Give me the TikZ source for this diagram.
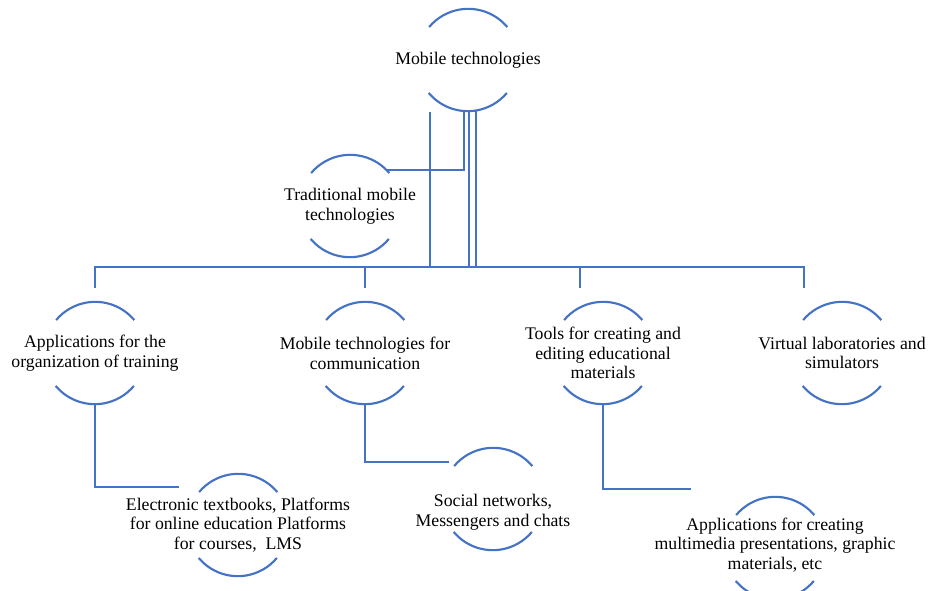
\documentclass[tikz,border=0pt]{standalone}
\usepackage{fontspec}
\setmainfont{Liberation Serif}
\newfontfamily\capfont{Liberation Serif}
\usetikzlibrary{positioning}
\definecolor{lineblue}{RGB}{68,114,196}
\tikzset{
  ring/.style={circle,minimum size=76.5pt,inner sep=0pt},
  caption/.style={align=center,inner sep=0pt,font=\capfont\fontsize{13.3}{14.8}\selectfont},
  rim/.style={draw=lineblue,line width=1.6pt},
  conn/.style={draw=lineblue,line width=1.7pt},
}
\newcommand{\topic}[5][0pt]{\node[ring] (#2) at (#3,#4) {};
  \node[caption] (#2-txt) at ([yshift=#1]#2.center) {#5};
  \draw[rim] (#2.40) arc[start angle=40,end angle=140,radius=38.25pt];
  \draw[rim] (#2.220) arc[start angle=220,end angle=320,radius=38.25pt];}

\begin{document}
\begin{tikzpicture}[x=0.75pt,y=0.75pt]
    \useasboundingbox (0,0) rectangle (929,-590);
    \topic{mob}{468}{-60}{Mobile technologies}
    \topic{trad}{350}{-206}{Traditional mobile\\technologies}
    \topic{org}{95}{-353}{Applications for the\\organization of training}
    \topic{comm}{365}{-353}{Mobile technologies for\\communication}
    \topic{tools}{603}{-353}{Tools for creating and\\editing educational\\materials}
    \topic{virt}{842}{-353}{Virtual laboratories and\\simulators}
    \topic{ebook}{238}{-525}{Electronic textbooks, Platforms\\for online education Platforms\\for courses,~ LMS}
    \topic[-9.75pt]{social}{493}{-499}{Social networks,\\Messengers and chats}
    \topic[2.25pt]{media}{775}{-548}{Applications for creating\\multimedia presentations, graphic\\materials, etc}

    % bus to the second row
    \coordinate (bus) at (0,-267);
    \coordinate (orgTop) at (95,-288);   \coordinate (commTop) at (365,-288);
    \coordinate (toolsTop) at (580,-288); \coordinate (virtTop) at (804,-288);
    \draw[conn] (orgTop) -- (orgTop |- bus) -| (virtTop);
    \draw[conn] (commTop) -- (commTop |- bus);
    \draw[conn] (toolsTop) -- (toolsTop |- bus);

    % from the top topic
    \coordinate (mobA) at (430,-112); \coordinate (mobC) at (469,-111);
    \coordinate (mobD) at (476,-111);
    \draw[conn] (mobA) -- (mobA |- bus);
    \draw[conn] ([xshift=-3pt]mob.south) |- (trad.45);
    \draw[conn] (mobC) -- (mobC |- bus);
    \draw[conn] (mobD) -- (mobD |- bus);

    % third row
    \coordinate (ebookIn) at (179,-487); \coordinate (socialIn) at (449,-462);
    \coordinate (mediaIn) at (691,-489);
    \draw[conn] (org.south) |- (ebookIn);
    \draw[conn] (comm.south) |- (socialIn);
    \draw[conn] (tools.south) |- (mediaIn);
\end{tikzpicture}
\end{document}
